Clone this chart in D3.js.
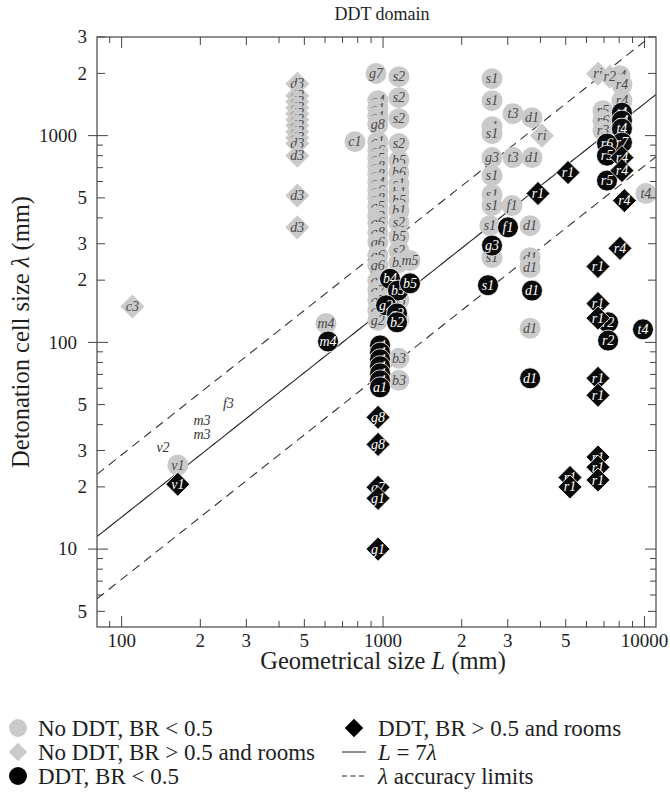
<!DOCTYPE html>
<html><head><meta charset="utf-8">
<script src="https://cdn.jsdelivr.net/npm/d3@7"></script>
<style>body{margin:0;background:#fff}</style>
</head><body><svg id="c" width="670" height="800"></svg>
<script>
// ---------- DATA ----------
// [label, L (mm), lambda (mm)]
const noDdtLowBR = [
  ["c1",781,935],["g7",940,2000],
  ["g4",955,1476],["g1",955,1350],["g1",955,1235],["g8",955,1130],["c1",955,935],["g6",955,846],["g5",955,774],
  ["g8",955,708],["g8",955,648],["g4",955,593],["g6",955,542],["g8",955,496],["g5",955,454],["g2",955,409],
  ["g6",955,380],["g8",955,341],["g6",955,305],["g6",955,264],["g6",955,236],["g8",955,199],["g7",955,178],
  ["g7",955,160],["g4",955,143],["g2",955,128],
  ["s2",1150,1928],["s2",1150,1526],["s2",1150,1208],["s2",1150,915],["b5",1150,757],["b6",1150,663],["s1",1150,586],
  ["b1",1150,530],["b5",1150,485],["b1",1150,434],["s2",1150,380],["b5",1150,325],["s2",1150,278],["b5",1150,243],
  ["b3",1150,160],["b2",1150,128],["b3",1150,83.7],["b3",1150,65.5],
  ["m5",1268,249],["m4",605,123.5],
  ["s1",2611,1886],["s1",2611,1476],["s1",2611,1105],["s1",2611,1022],["g3",2611,783],["s1",2611,641],
  ["s1",2611,519],["s1",2611,459],["s1",2563,367],["s1",2611,257],
  ["t3",3141,1277],["t3",3141,783],
  ["d1",3713,1222],["d1",3713,783],["d1",3652,367],["d1",3652,257],["d1",3652,230],["d1",3652,117],
  ["f1",3113,459],["v1",164,25.5],
  ["r4",8060,1950],["r4",8200,1763],["r4",8200,1476],["r5",6940,1320],["r6",6940,1182],["r3",6940,1057],
  ["t4",10130,525]
];
const noDdtHighBR = [
  ["c3",110,149],
  ["d3",470,1780],["d3",470,1560],["d3",470,1460],["d3",470,1366],["d3",470,1277],["d3",470,1195],["d3",470,1118],
  ["d3",470,1045],["d3",470,978],["d3",470,915],["d3",470,800],["d3",470,513],["d3",470,360],
  ["ri",4055,1000],["ri",6640,1993],["r2",7370,1928]
];
const ddtLowBR = [
  ["m4",616,101],["b4",1063,203],["b5",1141,178],["b5",1268,193],["g2",1027,151],["g2",1131,138],["b2",1131,125],
  ["a1",974,96.7],["a1",974,89.2],["a1",974,82.8],["a1",974,76.7],["a1",974,70.8],["a1",974,65.5],["a1",974,60.6],
  ["f1",3006,360],["g3",2611,294],["s1",2520,189],["d1",3713,178],["d1",3652,67],
  ["t4",8200,1291],["c4",8200,1182],["t4",8200,1081],["r7",8200,925],["r6",7190,915],["r5",7190,800],["r5",7190,606],
  ["r2",7260,125],["r2",7260,102],["t4",9870,115.6]
];
const ddtHighBR = [
  ["v1",164,20.6],["g8",957,43.4],["g8",957,32.1],["g7",957,19.9],["g1",957,17.6],["g1",957,10],
  ["r1",5100,663],["r1",3915,525],
  ["r4",8200,783],["r4",8200,678],["r4",8380,485],["r4",8060,285],
  ["r1",6640,233],["r1",6640,154],["r1",6640,131],["r1",6640,67],["r1",6640,55.5],["r1",6640,27.9],["r1",6640,24.9],
  ["r1",6640,21.6],["r1",5190,22.2],["r1",5190,20.0]
];
const labelOnly = [["v2",144,31.1],["m3",203,42],["m3",203,36],["f3",256,50.7]];

const solidRatio = 7;            // L = 7 lambda
const limitRatios = [3.5, 14];   // lambda accuracy limits

const xMajor = [100,200,300,500,1000,2000,3000,5000,10000];
const xMajorLabels = ["100","2","3","5","1000","2","3","5","10000"];
const xMinor = [90,400,600,700,800,900,4000,6000,7000,8000,9000];
const yMajor = [5,10,20,30,50,100,200,300,500,1000,2000,3000];
const yMajorLabels = ["5","10","2","3","5","100","2","3","5","1000","2","3"];
const yMinor = [6,7,8,9,40,60,70,80,90,400,600,700,800,900];
const decades = [10,100,1000,10000];

const legendLeft = ["No DDT, BR < 0.5","No DDT, BR > 0.5 and rooms","DDT, BR < 0.5"];

// ---------- DRAW ----------
const svg = d3.select("#c");
const L0=97, R0=656, T0=37, B0=627;
const x = d3.scaleLog().domain([80.5,11070]).range([L0,R0]);
const y = d3.scaleLog().domain([4.2,3000]).range([B0,T0]);
const serif = "'Liberation Serif','DejaVu Serif',serif";
const GRAY = "#cacaca";
const INK = "#1e1e1e";

svg.append("defs").append("clipPath").attr("id","pc")
  .append("rect").attr("x",L0).attr("y",T0).attr("width",R0-L0).attr("height",B0-T0);

// lines
const Ls = d3.range(0,101).map(i=>80.5*Math.pow(11070/80.5,i/100));
const lineGen = r => d3.line().x(d=>x(d)).y(d=>y(d/r))(Ls);
const gl = svg.append("g").attr("clip-path","url(#pc)");
gl.append("path").attr("d",lineGen(solidRatio)).attr("fill","none").attr("stroke","#222").attr("stroke-width",1.1);
limitRatios.forEach(r=>gl.append("path").attr("d",lineGen(r)).attr("fill","none")
  .attr("stroke","#333").attr("stroke-width",1.1).attr("stroke-dasharray","9,6"));

const diamond = d3.symbol().type(d3.symbolSquare).size(290);
const gm = svg.append("g").attr("clip-path","url(#pc)");
function drawSet(data, shape, fill, stroke, txt){
  const g = gm.append("g");
  data.forEach(d=>{
    const cx=x(d[1]), cy=y(d[2]);
    if(shape==="circle") g.append("circle").attr("cx",cx).attr("cy",cy).attr("r",10.5)
        .attr("fill",fill).attr("stroke",stroke).attr("stroke-width",stroke==="none"?0:0.8);
    else if(shape==="diamond") g.append("path").attr("d",diamond())
        .attr("transform",`translate(${cx},${cy}) rotate(45)`).attr("fill",fill)
        .attr("stroke",stroke).attr("stroke-width",stroke==="none"?0:0.8);
    g.append("text").attr("x",cx).attr("y",cy).attr("dy","0.33em").attr("text-anchor","middle")
      .attr("font-family",serif).attr("font-style","italic").attr("font-size",14).attr("fill",txt).text(d[0]);
  });
}
drawSet(noDdtLowBR,"circle",GRAY,"none","#4a4a4a");
drawSet(noDdtHighBR,"diamond",GRAY,"none","#4a4a4a");
drawSet(labelOnly,"none",null,"none","#333");
drawSet(ddtLowBR,"circle","#0a0a0a","#fff","#fff");
drawSet(ddtHighBR,"diamond","#0a0a0a","#fff","#fff");

// frame & ticks
const ga = svg.append("g");
ga.append("rect").attr("x",L0).attr("y",T0).attr("width",R0-L0).attr("height",B0-T0)
  .attr("fill","none").attr("stroke","#555").attr("stroke-width",1.3);
const tickStroke="#444";
[...xMajor,...xMinor].forEach(v=>{
  const len = decades.includes(v)?11:(xMajor.includes(v)?8:6);
  ga.append("line").attr("x1",x(v)).attr("x2",x(v)).attr("y1",B0).attr("y2",B0-len).attr("stroke",tickStroke);
  ga.append("line").attr("x1",x(v)).attr("x2",x(v)).attr("y1",T0).attr("y2",T0+len).attr("stroke",tickStroke);
});
[...yMajor,...yMinor].forEach(v=>{
  const len = decades.includes(v)?11:(yMajor.includes(v)?8:6);
  ga.append("line").attr("y1",y(v)).attr("y2",y(v)).attr("x1",L0).attr("x2",L0+len).attr("stroke",tickStroke);
  ga.append("line").attr("y1",y(v)).attr("y2",y(v)).attr("x1",R0).attr("x2",R0-len).attr("stroke",tickStroke);
  if(decades.includes(v)) ga.append("line").attr("y1",y(v)).attr("y2",y(v)).attr("x1",L0-9).attr("x2",L0).attr("stroke",tickStroke);
});
xMajor.forEach((v,i)=>ga.append("text").attr("x",x(v)).attr("y",B0+20).attr("text-anchor","middle")
  .attr("font-family",serif).attr("font-size",19).attr("fill",INK).text(xMajorLabels[i]));
yMajor.forEach((v,i)=>ga.append("text").attr("x",decades.includes(v)?L0-20:L0-10).attr("y",y(v)).attr("dy","0.33em")
  .attr("text-anchor","end").attr("font-family",serif).attr("font-size",19).attr("fill",INK).text(yMajorLabels[i]));

// titles
svg.append("text").attr("x",382).attr("y",20).attr("text-anchor","middle").attr("font-family",serif)
  .attr("font-size",18).attr("fill",INK).text("DDT domain");
const xt = svg.append("text").attr("x",383).attr("y",669).attr("text-anchor","middle").attr("font-family",serif)
  .attr("font-size",24.5).attr("fill",INK);
xt.append("tspan").text("Geometrical size ");
xt.append("tspan").attr("font-style","italic").text("L");
xt.append("tspan").text(" (mm)");
const yt = svg.append("text").attr("transform","translate(29,332) rotate(-90)").attr("text-anchor","middle")
  .attr("font-family",serif).attr("font-size",24.5).attr("fill",INK);
yt.append("tspan").text("Detonation cell size ");
yt.append("tspan").attr("font-style","italic").text("λ");
yt.append("tspan").text(" (mm)");

// legend
const lg = svg.append("g").attr("font-family",serif).attr("font-size",23).attr("fill",INK);
const rows=[728,752,776];
const legDiamond = d3.symbol().type(d3.symbolSquare).size(170);
lg.append("circle").attr("cx",18).attr("cy",rows[0]).attr("r",9).attr("fill",GRAY);
lg.append("path").attr("d",legDiamond()).attr("transform",`translate(18,${rows[1]}) rotate(45)`).attr("fill",GRAY);
lg.append("circle").attr("cx",18).attr("cy",rows[2]).attr("r",9).attr("fill","#000");
legendLeft.forEach((t,i)=>lg.append("text").attr("x",38).attr("y",rows[i]).attr("dy","0.35em").text(t));
lg.append("path").attr("d",legDiamond()).attr("transform",`translate(354,${rows[0]}) rotate(45)`).attr("fill","#000");
lg.append("text").attr("x",378).attr("y",rows[0]).attr("dy","0.35em").text("DDT, BR > 0.5 and rooms");
lg.append("line").attr("x1",342).attr("x2",366).attr("y1",rows[1]).attr("y2",rows[1]).attr("stroke","#222");
const t2 = lg.append("text").attr("x",378).attr("y",rows[1]).attr("dy","0.35em");
t2.append("tspan").attr("font-style","italic").text("L");
t2.append("tspan").text(" = 7");
t2.append("tspan").attr("font-style","italic").text("λ");
lg.append("line").attr("x1",342).attr("x2",366).attr("y1",rows[2]).attr("y2",rows[2]).attr("stroke","#222").attr("stroke-dasharray","5,3.5");
const t3 = lg.append("text").attr("x",378).attr("y",rows[2]).attr("dy","0.35em");
t3.append("tspan").attr("font-style","italic").text("λ");
t3.append("tspan").text(" accuracy limits");
</script></body></html>
